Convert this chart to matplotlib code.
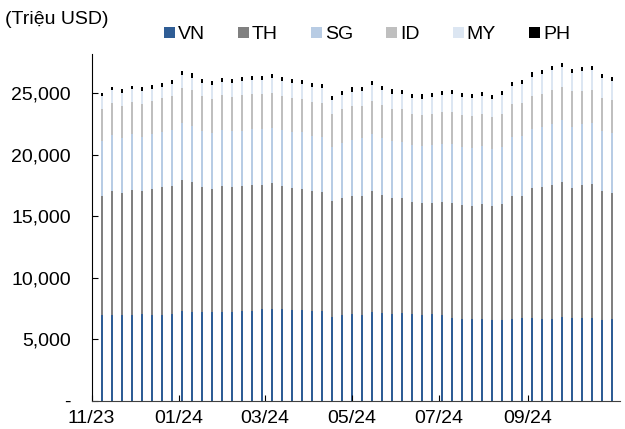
import numpy as np
import pandas as pd
import matplotlib
matplotlib.use('Agg')
import matplotlib.pyplot as plt
import matplotlib.dates as mdates
from matplotlib.ticker import FuncFormatter, FixedLocator
import datetime as dt

plt.rcParams['font.family'] = ['Liberation Sans', 'DejaVu Sans']

# Du lieu theo tuan (trieu USD)
tuan = pd.date_range('2023-11-01', periods=53, freq='7D')

VN = [6830, 7000, 7000, 7000, 7000, 7020, 6940, 6970, 7020, 7290,
      7180, 7210, 7180, 7210, 7240, 7320, 7290, 7430, 7430, 7430,
      7350, 7350, 7290, 7270, 6830, 6970, 7040, 7000, 7180, 7100,
      7050, 7130, 7020, 7000, 7050, 6940, 6700, 6640, 6620, 6620,
      6560, 6590, 6670, 6700, 6720, 6670, 6670, 6780, 6720, 6750,
      6700, 6560, 6620]
TH = [9970, 9670, 10050, 9920, 10160, 10000, 10300, 10380, 10430, 10700,
      10600, 10190, 10080, 10270, 10160, 10160, 10270, 10140, 10240, 10050,
      9920, 9840, 9760, 9670, 9400, 9490, 9630, 9670, 9890, 9620,
      9460, 9320, 9160, 9080, 9050, 9240, 9350, 9270, 9240, 9380,
      9270, 9400, 10000, 9970, 10620, 10680, 10870, 11030, 10620, 10790,
      10890, 10490, 10300]
SG = [4200, 4440, 4550, 4470, 4500, 4450, 4470, 4530, 4610, 4610,
      4580, 4550, 4550, 4550, 4530, 4500, 4530, 4530, 4530, 4530,
      4550, 4630, 4500, 4550, 4440, 4530, 4530, 4660, 4610, 4630,
      4580, 4610, 4610, 4630, 4690, 4690, 4820, 4740, 4690, 4740,
      4660, 4660, 4770, 4850, 4800, 4930, 5010, 5010, 4930, 4960,
      5010, 4900, 4880]
ID = [2600, 2660, 2630, 2600, 2660, 2680, 2680, 2710, 2760, 2850,
      2900, 2870, 2760, 2820, 2790, 2850, 2820, 2850, 2850, 2790,
      2820, 2760, 2760, 2740, 2680, 2710, 2760, 2630, 2740, 2740,
      2600, 2630, 2550, 2570, 2570, 2580, 2580, 2570, 2630, 2600,
      2600, 2680, 2660, 2660, 2630, 2660, 2710, 2710, 2900, 2680,
      2660, 2680, 2660]
MY = [1250, 1000, 1030, 1080, 1000, 1030, 1000, 950, 950, 1080,
      1030, 1060, 1110, 1110, 1110, 1140, 1140, 1110, 1170, 1190,
      1170, 1170, 1220, 1220, 1140, 1190, 1190, 1250, 1270, 1220,
      1300, 1250, 1270, 1300, 1380, 1440, 1460, 1460, 1460, 1460,
      1460, 1520, 1520, 1600, 1600, 1600, 1650, 1650, 1460, 1650,
      1630, 1600, 1570]
PH = [300, 270, 270, 300, 270, 300, 330, 330, 330, 300,
      330, 330, 300, 330, 330, 330, 330, 330, 330, 330,
      330, 330, 330, 330, 330, 330, 330, 330, 330, 330,
      330, 330, 330, 330, 330, 330, 330, 330, 330, 330,
      330, 330, 330, 330, 330, 330, 330, 330, 330, 330,
      330, 330, 330]

ten_nuoc = ['VN', 'TH', 'SG', 'ID', 'MY', 'PH']
mau = ['#2F5D95', '#808080', '#B8CCE4', '#BFBFBF', '#DCE6F2', '#000000']
chuoi = [VN, TH, SG, ID, MY, PH]
moc_thang = [dt.date(2023, 11, 1), dt.date(2024, 1, 1), dt.date(2024, 3, 1),
             dt.date(2024, 5, 1), dt.date(2024, 7, 1), dt.date(2024, 9, 1)]

fig = plt.figure(figsize=(6.25, 4.29), dpi=100)
ax = fig.add_axes([0.1467, 0.066, 0.845, 0.808])

x = mdates.date2num(tuan.to_pydatetime())
day = np.zeros(len(x))
for ten, m, s in zip(ten_nuoc, mau, chuoi):
    ax.bar(x, s, width=1.6, bottom=day, color=m, label=ten, linewidth=0)
    day = day + np.array(s)

ax.set_ylim(0, 28200)
ax.set_yticks([0, 5000, 10000, 15000, 20000, 25000])
ax.yaxis.set_major_formatter(FuncFormatter(lambda v, p: '-' if v == 0 else f'{v:,.0f}'))
ax.set_xlim(x[0], x[0] + 52.8 * 7)
ax.xaxis.set_major_locator(FixedLocator(mdates.date2num(moc_thang)))
ax.xaxis.set_major_formatter(mdates.DateFormatter('%m/%y'))

ax.spines['top'].set_visible(False)
ax.spines['right'].set_visible(False)
ax.spines['left'].set_color('#000000')
ax.spines['bottom'].set_color('#404040')
ax.tick_params(axis='both', direction='in', length=4, labelsize=14, colors='#000000')
ax.tick_params(axis='x', pad=7)
ax.tick_params(axis='y', pad=15)

fig.text(0.008, 0.955, '(Triệu USD)', fontsize=14, ha='left', va='center')
ax.legend(loc='center left', bbox_to_anchor=(0.122, 1.055), ncol=6, frameon=False,
          fontsize=14, handlelength=0.55, handleheight=0.55, handletextpad=0.15,
          columnspacing=1.72, borderaxespad=0)

plt.savefig('out.png', dpi=100)
